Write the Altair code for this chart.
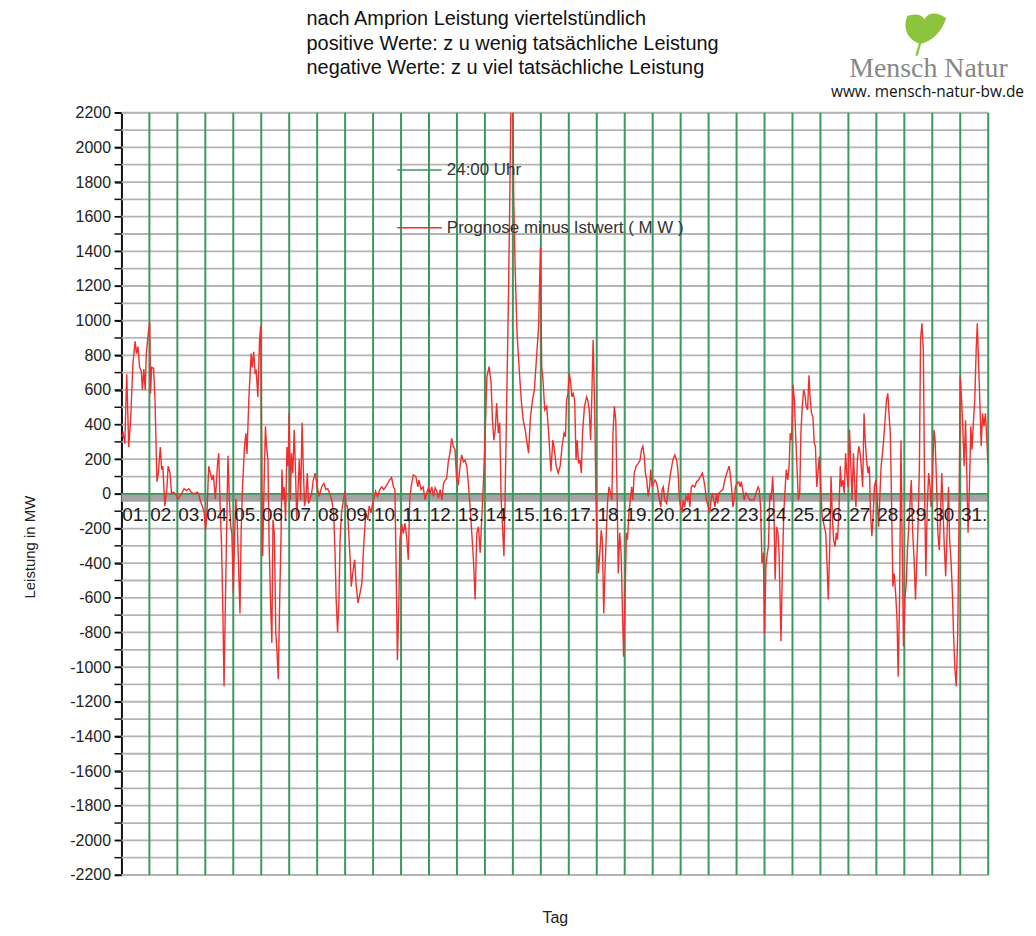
import altair as alt
import pandas as pd

TITEL = ["nach Amprion Leistung viertelstündlich",
         "positive Werte: z u wenig tatsächliche Leistung",
         "negative Werte: z u viel tatsächliche Leistung"]
SERIE_GRUEN = "24:00 Uhr"
SERIE_ROT = "Prognose minus Istwert ( M W )"
TAGE = ["01.", "02.", "03.", "04.", "05.", "06.", "07.", "08.", "09.", "10.",
        "11.", "12.", "13.", "14.", "15.", "16.", "17.", "18.", "19.", "20.",
        "21.", "22.", "23.", "24.", "25.", "26.", "27.", "28.", "29.", "30.", "31."]
TAGESGRENZEN = list(range(1, 32))
Y_BESCHRIFTUNG = list(range(-2200, 2201, 200))
Y_GITTER = list(range(-2200, 2201, 100))

# time in days since 01. 00:00, value in MW (Prognose minus Istwert)
tag = [
 0.00, 0.06, 0.12, 0.19, 0.26, 0.33, 0.41, 0.49, 0.54, 0.59, 0.65, 0.71, 0.75, 0.80, 0.85, 0.89, 0.96,
 1.01, 1.04, 1.08, 1.15, 1.20, 1.27, 1.32, 1.39, 1.44, 1.48, 1.55, 1.62, 1.67, 1.74, 1.79, 1.86, 1.94,
 2.02, 2.09, 2.18, 2.24, 2.33, 2.41, 2.49, 2.59, 2.71, 2.76, 2.82, 2.89, 2.96,
 3.01, 3.06, 3.12, 3.18, 3.24, 3.29, 3.36, 3.44, 3.48, 3.53, 3.58, 3.62, 3.67, 3.72, 3.76, 3.81, 3.86, 3.91, 3.95,
 4.00, 4.05, 4.09, 4.14, 4.19, 4.24, 4.28, 4.33, 4.40, 4.45, 4.49, 4.56, 4.64, 4.68, 4.73, 4.78, 4.82, 4.88, 4.94, 4.98,
 5.05, 5.09, 5.15, 5.19, 5.24, 5.28, 5.33, 5.38, 5.42, 5.47, 5.52, 5.56, 5.61, 5.66, 5.71, 5.74, 5.78, 5.82, 5.87, 5.92, 5.96,
 6.00, 6.04, 6.08, 6.13, 6.18, 6.22, 6.27, 6.32, 6.36, 6.41, 6.46, 6.51, 6.55, 6.60, 6.65, 6.69, 6.74, 6.80, 6.86, 6.93,
 7.00, 7.07, 7.16, 7.24, 7.31, 7.38, 7.45, 7.52, 7.59, 7.64, 7.68, 7.73, 7.78, 7.82, 7.87, 7.94, 7.99,
 8.04, 8.08, 8.13, 8.18, 8.22, 8.27, 8.34, 8.39, 8.46, 8.53, 8.60, 8.65, 8.69, 8.74, 8.81, 8.86, 8.93, 8.98,
 9.05, 9.09, 9.16, 9.24, 9.31, 9.38, 9.45, 9.52, 9.59, 9.66, 9.73, 9.78, 9.82, 9.87, 9.92, 9.96,
 10.02, 10.08, 10.14, 10.20, 10.26, 10.31, 10.36, 10.44, 10.53, 10.60, 10.64, 10.72, 10.79, 10.86, 10.92, 10.98,
 11.04, 11.10, 11.16, 11.22, 11.28, 11.34, 11.40, 11.46, 11.52, 11.58, 11.63, 11.69, 11.75, 11.81, 11.87, 11.93, 11.99,
 12.05, 12.11, 12.17, 12.23, 12.29, 12.35, 12.41, 12.47, 12.53, 12.59, 12.65, 12.71, 12.77, 12.83, 12.89, 12.95,
 13.01, 13.07, 13.15, 13.22, 13.27, 13.32, 13.37, 13.42, 13.48, 13.53, 13.58, 13.63, 13.68, 13.72, 13.78, 13.84, 13.89, 13.94, 13.99,
 14.03, 14.08, 14.15, 14.22, 14.30, 14.37, 14.44, 14.51, 14.56, 14.63, 14.70, 14.77, 14.84, 14.92, 14.96, 14.99,
 15.03, 15.07, 15.14, 15.21, 15.28, 15.36, 15.43, 15.47, 15.55, 15.62, 15.69, 15.76, 15.83, 15.88, 15.92, 15.97,
 16.02, 16.07, 16.11, 16.16, 16.21, 16.26, 16.30, 16.35, 16.40, 16.45, 16.49, 16.56, 16.64, 16.68, 16.73, 16.78, 16.82, 16.87, 16.92, 16.97,
 17.01, 17.06, 17.11, 17.16, 17.20, 17.25, 17.30, 17.35, 17.39, 17.44, 17.49, 17.54, 17.58, 17.63, 17.68, 17.73, 17.77, 17.82, 17.87, 17.91, 17.96,
 18.01, 18.06, 18.10, 18.15, 18.20, 18.25, 18.29, 18.34, 18.41, 18.48, 18.55, 18.60, 18.65, 18.70, 18.74, 18.79, 18.84, 18.89, 18.93, 18.98,
 19.03, 19.08, 19.12, 19.17, 19.24, 19.29, 19.34, 19.38, 19.43, 19.50, 19.57, 19.64, 19.72, 19.79, 19.86, 19.91, 19.95,
 20.00, 20.05, 20.09, 20.14, 20.19, 20.24, 20.28, 20.33, 20.38, 20.43, 20.50, 20.57, 20.64, 20.71, 20.78, 20.83, 20.87, 20.92, 20.99,
 21.04, 21.09, 21.13, 21.18, 21.23, 21.28, 21.32, 21.37, 21.44, 21.51, 21.58, 21.65, 21.73, 21.77, 21.82, 21.87, 21.91, 21.96,
 22.01, 22.08, 22.13, 22.17, 22.22, 22.27, 22.34, 22.41, 22.48, 22.55, 22.62, 22.70, 22.77, 22.81, 22.86, 22.91, 22.96,
 23.00, 23.05, 23.10, 23.14, 23.19, 23.24, 23.29, 23.33, 23.38, 23.43, 23.48, 23.52, 23.59, 23.64, 23.69, 23.74, 23.78, 23.83, 23.88, 23.92, 23.97,
 24.02, 24.07, 24.11, 24.16, 24.21, 24.26, 24.30, 24.35, 24.40, 24.44, 24.49, 24.54, 24.59, 24.63, 24.68, 24.73, 24.78, 24.82, 24.87, 24.92, 24.96,
 25.01, 25.06, 25.09, 25.14, 25.19, 25.24, 25.28, 25.33, 25.38, 25.42, 25.47, 25.52, 25.57, 25.61, 25.66, 25.71, 25.75, 25.80, 25.85, 25.90, 25.94, 25.99,
 26.04, 26.08, 26.13, 26.18, 26.23, 26.27, 26.32, 26.37, 26.42, 26.46, 26.51, 26.56, 26.60, 26.65, 26.70, 26.75, 26.79, 26.84, 26.89, 26.93, 26.98,
 27.03, 27.08, 27.12, 27.17, 27.22, 27.26, 27.31, 27.36, 27.41, 27.45, 27.50, 27.55, 27.59, 27.64, 27.69, 27.74, 27.78, 27.83, 27.88, 27.92, 27.97,
 28.02, 28.07, 28.11, 28.16, 28.21, 28.25, 28.30, 28.35, 28.40, 28.44, 28.49, 28.54, 28.58, 28.63, 28.68, 28.73, 28.77, 28.82, 28.87, 28.92, 28.96,
 29.01, 29.06, 29.10, 29.15, 29.20, 29.25, 29.29, 29.34, 29.39, 29.43, 29.48, 29.53, 29.58, 29.62, 29.67, 29.72, 29.76, 29.81, 29.86, 29.91, 29.95,
 30.00, 30.05, 30.09, 30.14, 30.19, 30.24, 30.28, 30.33, 30.38, 30.42, 30.47, 30.52, 30.57, 30.61, 30.66, 30.71, 30.75, 30.80, 30.85, 30.90, 30.94, 30.99,
]
mw = [
 330, 350, 290, 690, 270, 430, 750, 880, 810, 850, 730, 710, 600, 720, 600, 810, 930,
 990, 580, 730, 725, 540, 70, 120, 270, 140, 160, -70, 20, 160, 120, 0, 10, 0,
 -30, -15, 10, 30, 20, 30, 10, 0, 10, 0, -40, -70, -110,
 -210, -110, 160, 120, 80, 110, -30, 180, 235, -70, -300, -610, -1110, -610, -230, 220, -30, -190, -230,
 -570, -230, -30, -150, -420, -690, -230, 40, 270, 350, 230, 560, 810, 730, 820, 700, 710, 560, 890, 970,
 -360, -35, 390, 270, 200, -265, -610, -860, -150, -230, -800, -900, -1070, -610, -230, 140, -35, 40, -150, 270, 160,
 465, -35, 235, 120, 370, 160, -150, 40, 200, -35, 410, 120, -70, -15, 120, -55, -35, 0, 80, 120,
 40, -15, 40, 60, 25, 30, 0, -35, -110, -340, -610, -800, -610, -265, -110, -35, 15,
 -70, -70, -230, -380, -535, -460, -380, -515, -630, -575, -515, -340, -230, -110, -150, -70, -110, -55,
 -15, 15, -15, 25, 40, 25, 40, 60, 80, 95, 40, 25, -380, -960, -650, -265,
 -170, -230, -170, -245, -380, -35, 40, 110, 100, 40, 80, 25, 40, -35, 5, 35,
 5, 40, -15, 35, 15, -25, 25, -35, 60, 80, 90, 185, 235, 320, 275, 255, 80,
 60, 160, 225, 185, 195, 160, 60, -75, -225, -380, -610, -225, -190, -340, -130, 80,
 350, 675, 735, 640, 425, 310, 370, 525, 350, 410, -35, -190, -360, -35, 540, 1120, 1700, 2400, 2400,
 1700, 1310, 925, 735, 540, 425, 370, 290, 235, 445, 540, 600, 775, 965, 1255, 1420,
 735, 675, 485, 505, 350, 130, 310, 275, 160, 120, 160, 275, 350, 330, 540, 580,
 695, 640, 560, 580, 540, 195, 310, 175, 195, 120, 350, 505, 560, 540, 485, 310, 540, 890, 540, 5,
 -265, -460, -340, -210, -265, -690, -420, -190, -35, 40, 5, -35, 350, 505, 425, -35, -460, -225, -340, -610, -940,
 -610, -225, -265, -110, -35, 40, -35, 120, 160, 175, 195, 255, 275, 215, 120, 80, -15, 40, 140, 40,
 60, 80, 70, 40, -35, -75, 25, 40, -35, -55, 40, 120, 195, 225, 195, 120, -15,
 -75, -110, -35, -75, -15, -35, 5, -75, 40, 50, 40, 70, 80, 100, 120, 80, 40, -35, -75,
 -110, -35, 5, -35, -75, 5, -55, 5, 15, 25, 80, 120, 160, 120, 40, -75, -35, 40,
 60, 70, 40, 70, 25, -35, 5, -15, -35, -35, -35, 5, 40, 25, -75, -400, -340,
 -805, -420, -340, -305, 5, -35, 100, -35, -495, -190, -225, -340, -850, -420, -110, 40, 140, 80, 160, 350, 310,
 630, 540, 350, 160, -35, 5, 350, 505, 600, 580, 505, 485, 685, 560, 465, 445, 290, 275, 40, 140, 215,
 40, -130, -150, -190, -225, -420, -610, -325, 100, -110, -265, -305, -225, -265, -110, 160, 40, 80, 5, 235, 120, 40,
 370, 195, -35, 235, 40, -75, 195, 275, 235, 160, 40, 465, 310, 195, 120, 160, -110, -245, -110, 40, 80,
 -35, -190, -35, 160, 235, 310, 425, 540, 580, 465, 350, -110, -535, -460, -575, -725, -1055, -610, 310, -225, -880,
 -610, -515, -325, -190, -35, 80, -225, -380, -610, -420, -190, 160, 890, 985, 830, -35, -475, -75, 120, 40, -75,
 120, 370, 310, 80, -225, -325, -150, 120, -110, -305, -475, -225, 40, -265, -380, -575, -805, -1015, -1110, -805, -225,
 675, 540, 390, 160, 425, 80, -225, 40, 390, 255, 410, 540, 830, 985, 735, 485, 275, 465, 390, 465, 350, 175,
]

GRUEN = "#3a9a5e"
ROT = "#f42c2c"
GRAU = "#b4b4b4"
FONT = "Liberation Sans"

kurve = pd.DataFrame({"tag": tag, "mw": mw, "serie": SERIE_ROT})
grenzen = pd.DataFrame({"tag": TAGESGRENZEN, "serie": SERIE_GRUEN})
beschriftung = pd.DataFrame({"tag": [k - 0.5 for k in TAGESGRENZEN], "mw": [-125] * 31, "txt": TAGE})
band = pd.DataFrame({"tag": [0], "tag2": [31], "mw": [0], "mw2": [-45]})
gitter = pd.DataFrame({"mw": Y_GITTER})
eins = pd.DataFrame({"a": [0]})

x_enc = alt.X("tag:Q", scale=alt.Scale(domain=[0, 31], nice=False, zero=False),
              axis=alt.Axis(title="Tag", labels=False, ticks=False, domain=False, grid=False,
                            titleFont=FONT, titleFontSize=16, titleFontWeight="normal",
                            titleColor="#222", titlePadding=35))
y_enc = alt.Y("mw:Q", scale=alt.Scale(domain=[-2200, 2200], nice=False),
              axis=alt.Axis(values=Y_BESCHRIFTUNG, tickCount=len(Y_BESCHRIFTUNG),
                            labelExpr="'' + datum.value",
                            labelOverlap=False, grid=False,
                            title="Leistung in MW", titleX=-92, titleY=436,
                            titleAlign="center", titleBaseline="middle",
                            titleFont=FONT, titleFontSize=15, titleFontWeight="normal", titleColor="#222",
                            labelFont=FONT, labelFontSize=16, labelColor="#222", labelPadding=4,
                            tickSize=7, tickColor="#111", tickWidth=1.5,
                            domainColor="#111", domainWidth=2))

farbe = alt.Color("serie:N",
                  scale=alt.Scale(domain=[SERIE_GRUEN, SERIE_ROT], range=[GRUEN, ROT]),
                  legend=alt.Legend(title=None, orient="none", legendX=276, legendY=34,
                                    symbolType="stroke", symbolSize=2000, symbolStrokeWidth=1.5,
                                    labelFont=FONT, labelFontSize=17, labelColor="#333",
                                    labelLimit=500, rowPadding=26, labelOffset=4))

schicht_gitter = alt.Chart(gitter).mark_rule(color=GRAU, strokeWidth=1.8).encode(y=y_enc)
schicht_minor = alt.Chart(gitter).mark_rule(color="#111", strokeWidth=1.5).encode(
    y="mw:Q", x=alt.value(-7), x2=alt.value(0))
schicht_band = alt.Chart(band).mark_rect(color="#a3a3a3").encode(
    x=x_enc, x2="tag2:Q", y="mw:Q", y2="mw2:Q")
schicht_null = alt.Chart(eins).mark_rule(color=GRUEN, strokeWidth=2).encode(y=alt.datum(0))
schicht_grenzen = alt.Chart(grenzen).mark_rule(strokeWidth=2).encode(x="tag:Q", color=farbe)
schicht_kurve = alt.Chart(kurve).mark_line(strokeWidth=1.4, clip=True).encode(
    x="tag:Q", y="mw:Q", color=farbe)
schicht_tage = alt.Chart(beschriftung).mark_text(font=FONT, fontSize=19, color="#1c1c1c",
                                                 baseline="middle", align="center").encode(
    x="tag:Q", y="mw:Q", text="txt:N")

schicht_titel = alt.Chart(eins).mark_text(text=TITEL, font=FONT, fontSize=20, color="#111",
                                          align="left", baseline="top", lineHeight=24.5).encode(
    x=alt.value(186), y=alt.value(-104))

BLATT = ("M -0.4 0.95 L -0.25 0.4 C -0.8 0.2 -0.95 -0.35 -0.75 -0.8 "
         "C -0.5 -0.85 -0.2 -0.95 0.0 -0.65 C 0.2 -1.0 0.6 -0.95 0.95 -0.7 "
         "C 0.75 -0.1 0.35 0.3 -0.15 0.42 L -0.3 0.95 Z")
schicht_blatt = alt.Chart(eins).mark_point(shape=BLATT, filled=True, size=2100, color="#8cc43c",
                                           opacity=1, strokeWidth=0).encode(
    x=alt.value(807), y=alt.value(-79))
schicht_logo = alt.Chart(eins).mark_text(text="Mensch Natur", font="Liberation Serif", fontSize=28,
                                         color="#878787", align="center", baseline="alphabetic").encode(
    x=alt.value(811), y=alt.value(-36))
schicht_web = alt.Chart(eins).mark_text(text="www. mensch-natur-bw.de", font="Open Sans", fontSize=15.5,
                                        color="#111", align="right", baseline="middle").encode(
    x=alt.value(907), y=alt.value(-21))

chart = alt.layer(
    schicht_gitter, schicht_minor, schicht_band, schicht_null, schicht_grenzen, schicht_kurve,
    schicht_tage, schicht_titel, schicht_blatt, schicht_logo, schicht_web
).properties(
    width=871, height=766,
    autosize=alt.AutoSizeParams(type="none"),
    padding={"left": 114, "top": 103, "right": 40, "bottom": 51},
).configure_view(stroke=None).configure(font=FONT)

chart.save("out.html", embed_options={"renderer": "svg", "actions": False})
